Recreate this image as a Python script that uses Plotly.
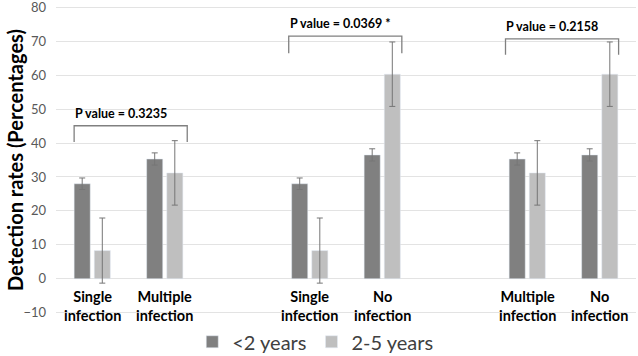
import plotly.graph_objects as go

# ---- data ----
slots = [0, 1, 3, 4, 6, 7]
cat_labels = ["Single<br>infection", "Multiple<br>infection",
              "Single<br>infection", "No<br>infection",
              "Multiple<br>infection", "No<br>infection"]
under2 = [28.0, 35.3, 28.0, 36.5, 35.3, 36.5]
under2_err = [1.7, 1.8, 1.7, 1.8, 1.8, 1.8]
age2to5 = [8.3, 31.2, 8.3, 60.3, 31.2, 60.3]
age2to5_err = [9.6, 9.5, 9.6, 9.5, 9.5, 9.5]
series_names = ["<2 years", "2-5 years"]

y_ticks = [-10, 0, 10, 20, 30, 40, 50, 60, 70, 80]

# significance brackets
br_left = [-0.25, 2.71, 5.70]
br_right = [1.31, 4.27, 7.26]
br_top = [45.1, 71.5, 70.7]
br_leg = [40.3, 66.5, 66.0]
br_text = ["P value = 0.3235", "P value = 0.0369 *", "P value = 0.2158"]
br_text_x = [0.39, 3.42, 6.34]

DARK = "#808080"
LIGHT = "#bfbfbf"
ERR = "#767676"
FONT = "Lato"

fig = go.Figure()
fig.add_trace(go.Bar(
    x=slots, y=under2, name=series_names[0], marker_color=DARK,
    error_y=dict(type="data", array=under2_err, color=ERR, thickness=1, width=3),
))
fig.add_trace(go.Bar(
    x=slots, y=age2to5, name=series_names[1], marker_color=LIGHT,
    error_y=dict(type="data", array=age2to5_err, color=ERR, thickness=1, width=3),
))

shapes = []
annotations = []
for l, r, t, g, txt, tx in zip(br_left, br_right, br_top, br_leg, br_text, br_text_x):
    shapes.append(dict(
        type="path", xref="x", yref="y",
        path=f"M {l},{g} L {l},{t} L {r},{t} L {r},{g}",
        line=dict(color="#808080", width=1.3),
    ))
    annotations.append(dict(
        x=tx, y=t, xref="x", yref="y", text=f"<b>{txt}</b>", showarrow=False,
        yanchor="bottom", yshift=3, font=dict(family=FONT, size=12.5, color="#000000"),
    ))

for s, lab in zip(slots, cat_labels):
    annotations.append(dict(
        x=s, y=0, xref="x", yref="y", text=f"<b>{lab}</b>", showarrow=False,
        yanchor="top", yshift=-7, font=dict(family=FONT, size=14.5, color="#000000"),
    ))

annotations.append(dict(
    x=-0.0707, y=0.5, xref="paper", yref="paper",
    text="<b>Detection rates (Percentages)</b>", textangle=-90, showarrow=False,
    xanchor="center", yanchor="middle", font=dict(family=FONT, size=20, color="#000000"),
))

fig.update_layout(
    width=638, height=356,
    margin=dict(l=56, r=2, t=6, b=42, autoexpand=False),
    paper_bgcolor="white", plot_bgcolor="white",
    barmode="group", bargap=0.445, bargroupgap=0.2,
    font=dict(family=FONT, color="#595959"),
    xaxis=dict(range=[-0.5, 7.5], showticklabels=False, showgrid=False,
               zeroline=False, showline=False, fixedrange=True, automargin=False),
    yaxis=dict(range=[-10.4, 80.4], tickvals=y_ticks, showgrid=True,
               gridcolor="#e3e3e3", gridwidth=1, zeroline=False, showline=False,
               tickfont=dict(family=FONT, size=13, color="#595959"),
               ticklabelstandoff=9, ticklabeloverflow="allow", automargin=False),
    legend=dict(orientation="h", x=0.447, xanchor="center",
                yref="container", y=0.04, yanchor="middle",
                font=dict(family=FONT, size=20, color="#404040"),
                tracegroupgap=0),
    shapes=shapes, annotations=annotations,
)

fig.write_html("out.html", post_script="document.body.style.margin='0';",
               config={"displayModeBar": False})
